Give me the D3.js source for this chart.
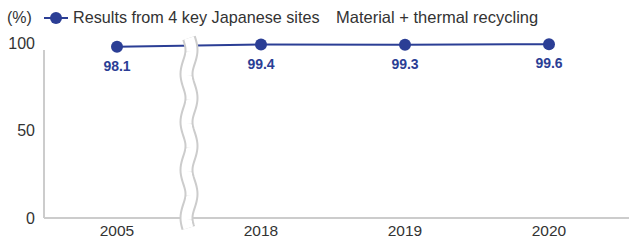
<!DOCTYPE html>
<html>
<head>
<meta charset="utf-8">
<script src="https://cdn.jsdelivr.net/npm/d3@7"></script>
<style>
  body { margin: 0; background: #fff; }
  text { font-family: "Liberation Sans", Arial, sans-serif; }
</style>
</head>
<body>
<svg id="chart" width="629" height="240"></svg>
<script>
// chart data
const years = ["2005", "2018", "2019", "2020"];
const rates = [98.1, 99.4, 99.3, 99.6];
const yTicks = [0, 50, 100];
const seriesName = "Results from 4 key Japanese sites";
const subtitle = "Material + thermal recycling";

const blue = "#2b3e95";
const grey = "#cccccc";
const svg = d3.select("#chart");

const x = d3.scaleBand()
    .domain(years)
    .range([45, 621]);

const y = d3.scaleLinear()
    .domain([0, 100])
    .range([218, 43.5]);

const cx = d => x(d) + x.bandwidth() / 2;

// axes lines
svg.append("line")
    .attr("x1", 44).attr("x2", 629)
    .attr("y1", y(0)).attr("y2", y(0))
    .attr("stroke", grey).attr("stroke-width", 2);
svg.append("line")
    .attr("x1", 44).attr("x2", 44)
    .attr("y1", 50).attr("y2", y(0))
    .attr("stroke", grey).attr("stroke-width", 2);

// y tick labels
svg.append("g")
    .selectAll("text")
    .data(yTicks)
    .join("text")
    .attr("x", 35)
    .attr("y", d => y(d) + 5.5)
    .attr("text-anchor", "end")
    .attr("font-size", 16)
    .attr("fill", "#333")
    .text(d => d);

// x tick labels
svg.append("g")
    .selectAll("text")
    .data(years)
    .join("text")
    .attr("x", d => cx(d))
    .attr("y", 236)
    .attr("text-anchor", "middle")
    .attr("font-size", 15.5)
    .attr("fill", "#333")
    .text(d => d);

// the line
const line = d3.line()
    .x((d, i) => cx(years[i]))
    .y(d => y(d));

svg.append("path")
    .datum(rates)
    .attr("d", line)
    .attr("fill", "none")
    .attr("stroke", blue)
    .attr("stroke-width", 2);

// axis break (wavy)
const bx = (cx(years[0]) + cx(years[1])) / 2;
const wave = d3.range(38, 229, 2).map(v => [bx + 2.5 * Math.sin((v - 38) / 48 * 2 * Math.PI), v]);
const wavePath = d3.line()(wave);
svg.append("path").attr("d", wavePath).attr("fill", "none")
    .attr("stroke", grey).attr("stroke-width", 14);
svg.append("path").attr("d", wavePath).attr("fill", "none")
    .attr("stroke", "#fff").attr("stroke-width", 10);

// dots
svg.append("g")
    .selectAll("circle")
    .data(rates)
    .join("circle")
    .attr("cx", (d, i) => cx(years[i]))
    .attr("cy", d => y(d))
    .attr("r", 6)
    .attr("fill", blue);

// value labels
svg.append("g")
    .selectAll("text")
    .data(rates)
    .join("text")
    .attr("x", (d, i) => cx(years[i]))
    .attr("y", d => y(d) + 24)
    .attr("text-anchor", "middle")
    .attr("font-size", 14)
    .attr("font-weight", "bold")
    .attr("fill", blue)
    .text(d => d.toFixed(1));

// legend
svg.append("text")
    .attr("x", 7).attr("y", 23)
    .attr("font-size", 16)
    .attr("fill", "#333")
    .text("(%)");
svg.append("line")
    .attr("x1", 44).attr("x2", 68)
    .attr("y1", 18).attr("y2", 18)
    .attr("stroke", blue).attr("stroke-width", 2);
svg.append("circle")
    .attr("cx", 56).attr("cy", 18).attr("r", 6)
    .attr("fill", blue);
svg.append("text")
    .attr("x", 73).attr("y", 23)
    .attr("font-size", 16.2)
    .attr("fill", "#333")
    .text(seriesName);
svg.append("text")
    .attr("x", 336).attr("y", 23)
    .attr("font-size", 16.5)
    .attr("fill", "#333")
    .text(subtitle);
</script>
</body>
</html>
